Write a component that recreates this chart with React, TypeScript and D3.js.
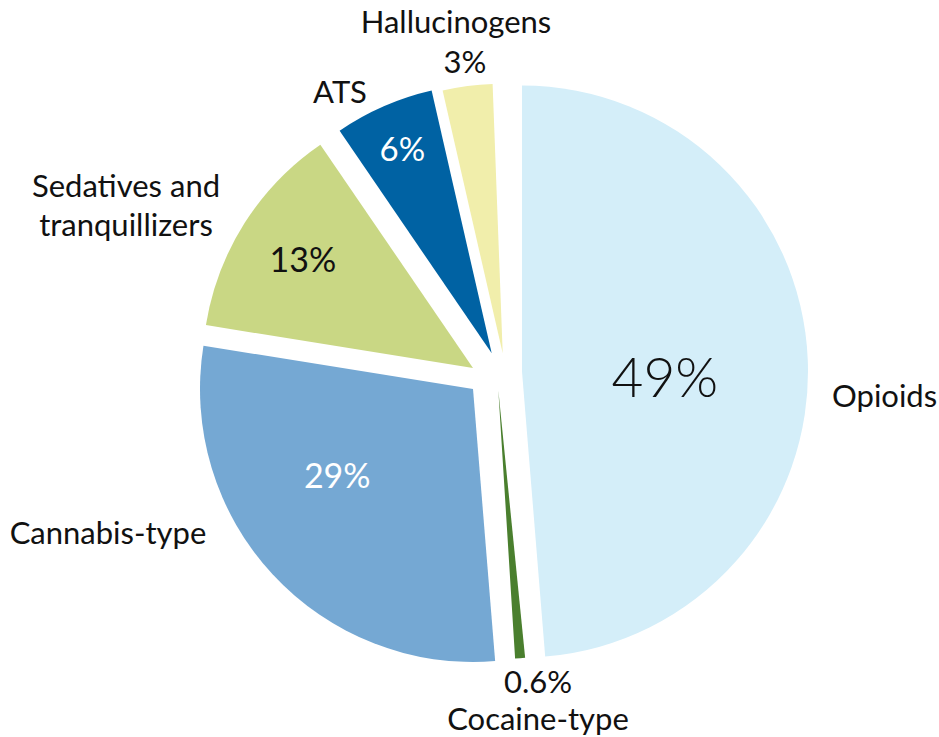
import React from "react";
import * as d3 from "d3";

// ---- data ----
const categories = ["Opioids", "Cocaine-type", "Cannabis-type", "Sedatives and tranquillizers", "ATS", "Hallucinogens"];
const shares = [49, 0.6, 29, 13, 6, 3];
const shareLabels = ["49%", "0.6%", "29%", "13%", "6%", "3%"];

// ---- style / layout (not data) ----
const colors = ["#D4EEF9", "#4A7F2E", "#75A8D3", "#C9D784", "#0062A3", "#F1EEAB"];
const W = 939, H = 737;
const CX = 500, CY = 372;
// explode shift of each slice from the common centre, and its radius
const shiftX = [22, -1.7, -27, -27, -8.3, 2.7];
const shiftY = [-0.5, 18, 17, -4, -18.7, -18.7];
const radius = [286, 269, 273, 270.5, 269.5, 269.5];
// value label placement inside slices (fraction of radius, angle tweak in degrees); null = outside
const inFrac = [0.5, null, 0.59, 0.745, 0.828, null];
const inShift = [4.5, 0, 10.2, 0, 0, 0];
const inSize = [55, 0, 34, 34, 33, 0];
const inWeight = [300, 400, 400, 400, 400, 400];
const inColor = ["#111", "#111", "#fff", "#111", "#fff", "#111"];

const nameFont = "Lato, 'Open Sans', sans-serif";
const numFont = "Lato, 'Open Sans', sans-serif";

const COCAINE = "Cocaine-type";

export default function App() {
  const items = categories.map((c, i) => ({ name: c, value: shares[i], label: shareLabels[i], i }));
  // the small cocaine slice is laid out last, then placed in the gap between opioids and cannabis
  const pie = d3
    .pie<any>()
    .value((d) => d.value)
    .sort((a, b) => (a.name === COCAINE ? 1 : 0) - (b.name === COCAINE ? 1 : 0));
  const arcs = pie(items);
  const opi = arcs[0];
  const coc = arcs[1];
  const span = coc.endAngle - coc.startAngle;
  const cocArc = { ...coc, startAngle: opi.endAngle - span / 2, endAngle: opi.endAngle + span / 2 };
  const finalArcs = arcs.map((a, i) => (i === 1 ? cocArc : a));

  const arcGen = d3.arc<any>().innerRadius(0);

  return (
    <svg width={W} height={H} style={{ position: "absolute", left: 0, top: 0, background: "#fff" }}>
      {finalArcs.map((a, i) => (
        <path
          key={i}
          transform={`translate(${CX + shiftX[i]},${CY + shiftY[i]})`}
          d={arcGen.outerRadius(radius[i])(a) as string}
          fill={colors[i]}
        />
      ))}
      {finalArcs.map((a, i) => {
        const f = inFrac[i];
        if (f == null) return null;
        const ang = (a.startAngle + a.endAngle) / 2 + (inShift[i] * Math.PI) / 180;
        const rr = f * radius[i];
        const x = CX + shiftX[i] + rr * Math.sin(ang);
        const y = CY + shiftY[i] - rr * Math.cos(ang);
        return (
          <text
            key={"v" + i}
            x={x}
            y={y + inSize[i] * 0.36}
            textAnchor="middle"
            fontFamily={numFont}
            fontWeight={inWeight[i]}
            fontSize={inSize[i]}
            fill={inColor[i]}
          >
            {a.data.label}
          </text>
        );
      })}
      <g fontFamily={nameFont} fontSize={31} fill="#111">
        <text x={456} y={33} textAnchor="middle">{categories[5]}</text>
        <text x={465} y={73} textAnchor="middle">{shareLabels[5]}</text>
        <text x={340} y={103} textAnchor="middle">{categories[4]}</text>
        <text x={126} y={197} textAnchor="middle">Sedatives and</text>
        <text x={126} y={236} textAnchor="middle">tranquillizers</text>
        <text x={108} y={544} textAnchor="middle">{categories[2]}</text>
        <text x={832} y={407} textAnchor="start">{categories[0]}</text>
        <text x={538} y={693} textAnchor="middle">{shareLabels[1]}</text>
        <text x={538} y={730} textAnchor="middle">{categories[1]}</text>
      </g>
    </svg>
  );
}
